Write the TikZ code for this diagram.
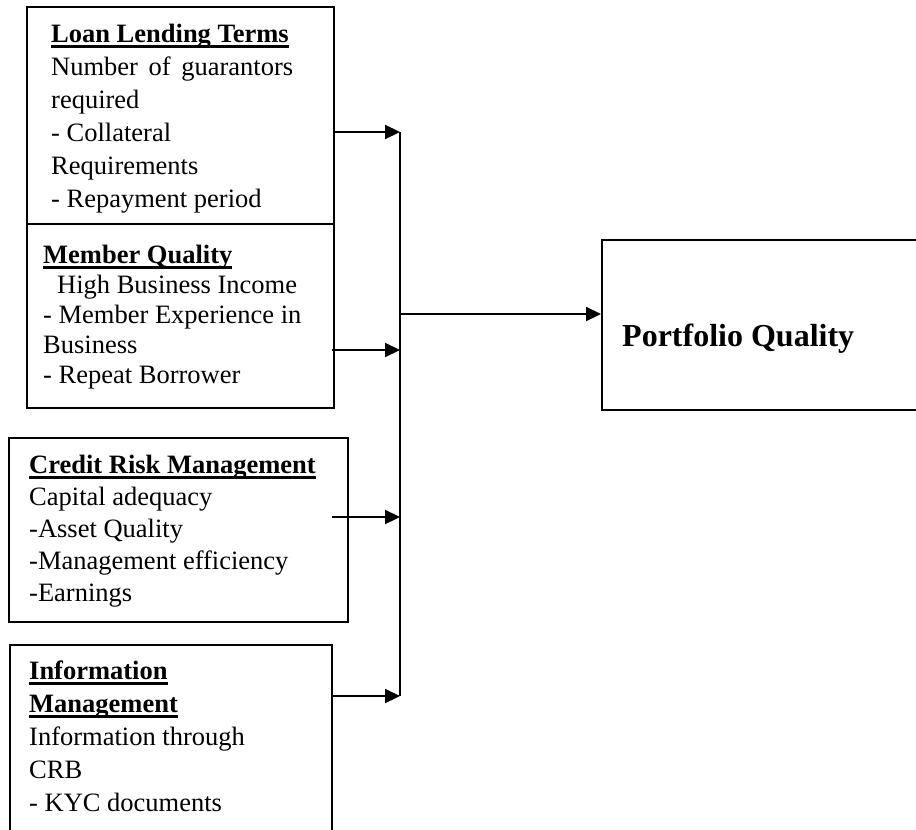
\documentclass[tikz,border=0pt]{standalone}
\usepackage{fontspec}
\setmainfont{Liberation Serif}
\usetikzlibrary{arrows.meta}
\newlength\hdwd
\newcommand\hdline[1]{\settowidth\hdwd{\textbf{#1}}\textbf{#1}\hspace*{-\hdwd}\rule[-5pt]{\hdwd}{2.4pt}}

\begin{document}
\begin{tikzpicture}[x=1pt, y=-1pt,
      box/.style={draw, line width=1.6pt, anchor=north west, inner sep=0pt},
      txt/.style={anchor=north west, inner sep=0pt, align=left},
      feed/.style={line width=2.2pt, -{Triangle[length=15pt, width=14pt]}}]
    \clip (0,0) rectangle (916,830);
    \node[box, minimum width=307pt, minimum height=217pt] (loan) at (26,6) {};
    \node[box, minimum width=307pt, minimum height=184pt] (member) at (26,223) {};
    \node[box, minimum width=339pt, minimum height=184pt] (credit) at (8,437) {};
    \node[box, minimum width=322pt, minimum height=220pt] (info) at (9,644) {};
    \node[box, minimum width=340pt, minimum height=170pt] (portfolio) at (601,239) {};
    \node[txt, font=\fontsize{26.5}{33}\selectfont] (loantxt) at (51,24)
      {\hdline{Loan Lending Terms}\\
       \makebox[242pt][s]{Number of guarantors}\\
       required\\
       - Collateral\\
       Requirements\\
       - Repayment period};
    \node[txt, font=\fontsize{26.5}{30}\selectfont] (membertxt) at (43,245)
      {\hdline{Member Quality}\\
       \hspace*{14pt}High Business Income\\
       - Member Experience in\\
       Business\\
       - Repeat Borrower};
    \node[txt, font=\fontsize{26.5}{32}\selectfont] (credittxt) at (29,455)
      {\hdline{Credit Risk Management}\\
       Capital adequacy\\
       -Asset Quality\\
       -Management efficiency\\
       -Earnings};
    \node[txt, font=\fontsize{26.5}{33}\selectfont] (infotxt) at (29,661)
      {\hdline{Information}\\
       \hdline{Management}\\
       Information through\\
       CRB\\
       - KYC documents};
    \node[anchor=base west, inner sep=0pt, font=\fontsize{32}{38}\selectfont\bfseries]
      (portfoliotxt) at (622,346) {Portfolio Quality};
    \coordinate (b1) at (400,132);
    \coordinate (b2) at (400,350);
    \coordinate (b3) at (400,517);
    \coordinate (b4) at (400,696);
    \coordinate (bout) at (400,314);
    \draw[line width=1.4pt] (b1) -- (b4);
    \draw[feed] (loan.east |- b1) -- (b1);
    \draw[feed, shorten <=-3pt] (member.east |- b2) -- (b2);
    \draw[feed, shorten <=-17pt] (credit.east |- b3) -- (b3);
    \draw[feed] (info.east |- b4) -- (b4);
    \draw[feed] (bout) -- (portfolio.west |- bout);
  \end{tikzpicture}
\end{document}
